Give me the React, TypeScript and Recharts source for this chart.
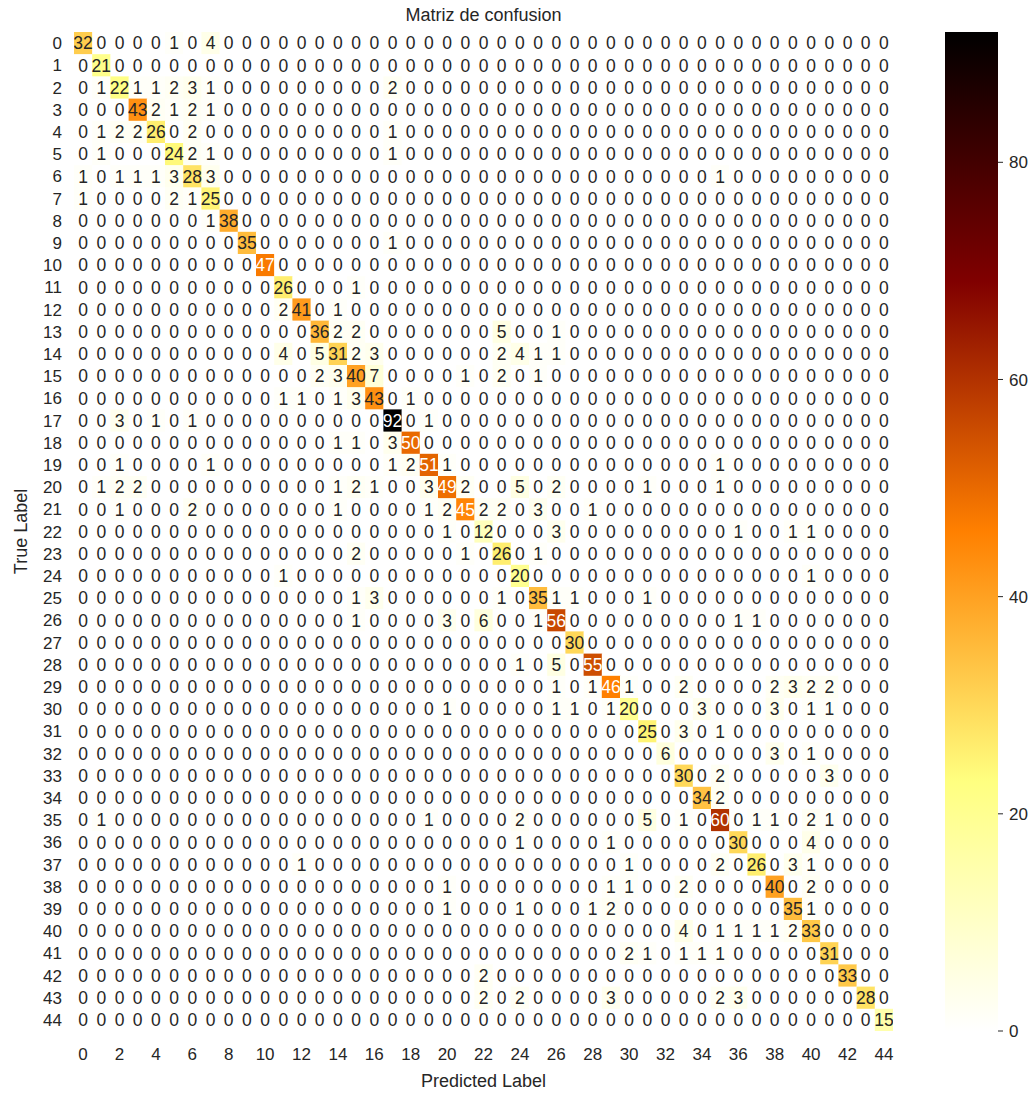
import React from 'react';
import { ScatterChart, Scatter, XAxis, YAxis, BarChart, Bar, Label } from 'recharts';

const FONT = '"Liberation Sans", Arial, sans-serif';
const INK = '#262626';

// class ids on each axis, and the ticks actually printed
const CLASS_TICKS = [
  0, 1, 2, 3, 4, 5, 6, 7, 8, 9, 10, 11, 12, 13, 14, 15, 16, 17, 18, 19, 20, 21, 22,
  23, 24, 25, 26, 27, 28, 29, 30, 31, 32, 33, 34, 35, 36, 37, 38, 39, 40, 41, 42, 43, 44,
];
const PRED_TICKS = [0, 2, 4, 6, 8, 10, 12, 14, 16, 18, 20, 22, 24, 26, 28, 30, 32, 34, 36, 38, 40, 42, 44];
const CBAR_TICKS = [0, 20, 40, 60, 80];
const V_MAX = 92;

// rows = true label, columns = predicted label
const CONFUSION: number[][] = [
  [32, 0, 0, 0, 0, 1, 0, 4, 0, 0, 0, 0, 0, 0, 0, 0, 0, 0, 0, 0, 0, 0, 0, 0, 0, 0, 0, 0, 0, 0, 0, 0, 0, 0, 0, 0, 0, 0, 0, 0, 0, 0, 0, 0, 0],
  [0, 21, 0, 0, 0, 0, 0, 0, 0, 0, 0, 0, 0, 0, 0, 0, 0, 0, 0, 0, 0, 0, 0, 0, 0, 0, 0, 0, 0, 0, 0, 0, 0, 0, 0, 0, 0, 0, 0, 0, 0, 0, 0, 0, 0],
  [0, 1, 22, 1, 1, 2, 3, 1, 0, 0, 0, 0, 0, 0, 0, 0, 0, 2, 0, 0, 0, 0, 0, 0, 0, 0, 0, 0, 0, 0, 0, 0, 0, 0, 0, 0, 0, 0, 0, 0, 0, 0, 0, 0, 0],
  [0, 0, 0, 43, 2, 1, 2, 1, 0, 0, 0, 0, 0, 0, 0, 0, 0, 0, 0, 0, 0, 0, 0, 0, 0, 0, 0, 0, 0, 0, 0, 0, 0, 0, 0, 0, 0, 0, 0, 0, 0, 0, 0, 0, 0],
  [0, 1, 2, 2, 26, 0, 2, 0, 0, 0, 0, 0, 0, 0, 0, 0, 0, 1, 0, 0, 0, 0, 0, 0, 0, 0, 0, 0, 0, 0, 0, 0, 0, 0, 0, 0, 0, 0, 0, 0, 0, 0, 0, 0, 0],
  [0, 1, 0, 0, 0, 24, 2, 1, 0, 0, 0, 0, 0, 0, 0, 0, 0, 1, 0, 0, 0, 0, 0, 0, 0, 0, 0, 0, 0, 0, 0, 0, 0, 0, 0, 0, 0, 0, 0, 0, 0, 0, 0, 0, 0],
  [1, 0, 1, 1, 1, 3, 28, 3, 0, 0, 0, 0, 0, 0, 0, 0, 0, 0, 0, 0, 0, 0, 0, 0, 0, 0, 0, 0, 0, 0, 0, 0, 0, 0, 0, 1, 0, 0, 0, 0, 0, 0, 0, 0, 0],
  [1, 0, 0, 0, 0, 2, 1, 25, 0, 0, 0, 0, 0, 0, 0, 0, 0, 0, 0, 0, 0, 0, 0, 0, 0, 0, 0, 0, 0, 0, 0, 0, 0, 0, 0, 0, 0, 0, 0, 0, 0, 0, 0, 0, 0],
  [0, 0, 0, 0, 0, 0, 0, 1, 38, 0, 0, 0, 0, 0, 0, 0, 0, 0, 0, 0, 0, 0, 0, 0, 0, 0, 0, 0, 0, 0, 0, 0, 0, 0, 0, 0, 0, 0, 0, 0, 0, 0, 0, 0, 0],
  [0, 0, 0, 0, 0, 0, 0, 0, 0, 35, 0, 0, 0, 0, 0, 0, 0, 1, 0, 0, 0, 0, 0, 0, 0, 0, 0, 0, 0, 0, 0, 0, 0, 0, 0, 0, 0, 0, 0, 0, 0, 0, 0, 0, 0],
  [0, 0, 0, 0, 0, 0, 0, 0, 0, 0, 47, 0, 0, 0, 0, 0, 0, 0, 0, 0, 0, 0, 0, 0, 0, 0, 0, 0, 0, 0, 0, 0, 0, 0, 0, 0, 0, 0, 0, 0, 0, 0, 0, 0, 0],
  [0, 0, 0, 0, 0, 0, 0, 0, 0, 0, 0, 26, 0, 0, 0, 1, 0, 0, 0, 0, 0, 0, 0, 0, 0, 0, 0, 0, 0, 0, 0, 0, 0, 0, 0, 0, 0, 0, 0, 0, 0, 0, 0, 0, 0],
  [0, 0, 0, 0, 0, 0, 0, 0, 0, 0, 0, 2, 41, 0, 1, 0, 0, 0, 0, 0, 0, 0, 0, 0, 0, 0, 0, 0, 0, 0, 0, 0, 0, 0, 0, 0, 0, 0, 0, 0, 0, 0, 0, 0, 0],
  [0, 0, 0, 0, 0, 0, 0, 0, 0, 0, 0, 0, 0, 36, 2, 2, 0, 0, 0, 0, 0, 0, 0, 5, 0, 0, 1, 0, 0, 0, 0, 0, 0, 0, 0, 0, 0, 0, 0, 0, 0, 0, 0, 0, 0],
  [0, 0, 0, 0, 0, 0, 0, 0, 0, 0, 0, 4, 0, 5, 31, 2, 3, 0, 0, 0, 0, 0, 0, 2, 4, 1, 1, 0, 0, 0, 0, 0, 0, 0, 0, 0, 0, 0, 0, 0, 0, 0, 0, 0, 0],
  [0, 0, 0, 0, 0, 0, 0, 0, 0, 0, 0, 0, 0, 2, 3, 40, 7, 0, 0, 0, 0, 1, 0, 2, 0, 1, 0, 0, 0, 0, 0, 0, 0, 0, 0, 0, 0, 0, 0, 0, 0, 0, 0, 0, 0],
  [0, 0, 0, 0, 0, 0, 0, 0, 0, 0, 0, 1, 1, 0, 1, 3, 43, 0, 1, 0, 0, 0, 0, 0, 0, 0, 0, 0, 0, 0, 0, 0, 0, 0, 0, 0, 0, 0, 0, 0, 0, 0, 0, 0, 0],
  [0, 0, 3, 0, 1, 0, 1, 0, 0, 0, 0, 0, 0, 0, 0, 0, 0, 92, 0, 1, 0, 0, 0, 0, 0, 0, 0, 0, 0, 0, 0, 0, 0, 0, 0, 0, 0, 0, 0, 0, 0, 0, 0, 0, 0],
  [0, 0, 0, 0, 0, 0, 0, 0, 0, 0, 0, 0, 0, 0, 1, 1, 0, 3, 50, 0, 0, 0, 0, 0, 0, 0, 0, 0, 0, 0, 0, 0, 0, 0, 0, 0, 0, 0, 0, 0, 0, 0, 0, 0, 0],
  [0, 0, 1, 0, 0, 0, 0, 1, 0, 0, 0, 0, 0, 0, 0, 0, 0, 1, 2, 51, 1, 0, 0, 0, 0, 0, 0, 0, 0, 0, 0, 0, 0, 0, 0, 1, 0, 0, 0, 0, 0, 0, 0, 0, 0],
  [0, 1, 2, 2, 0, 0, 0, 0, 0, 0, 0, 0, 0, 0, 1, 2, 1, 0, 0, 3, 49, 2, 0, 0, 5, 0, 2, 0, 0, 0, 0, 1, 0, 0, 0, 1, 0, 0, 0, 0, 0, 0, 0, 0, 0],
  [0, 0, 1, 0, 0, 0, 2, 0, 0, 0, 0, 0, 0, 0, 1, 0, 0, 0, 0, 1, 2, 45, 2, 2, 0, 3, 0, 0, 1, 0, 0, 0, 0, 0, 0, 0, 0, 0, 0, 0, 0, 0, 0, 0, 0],
  [0, 0, 0, 0, 0, 0, 0, 0, 0, 0, 0, 0, 0, 0, 0, 0, 0, 0, 0, 0, 1, 0, 12, 0, 0, 0, 3, 0, 0, 0, 0, 0, 0, 0, 0, 0, 1, 0, 0, 1, 1, 0, 0, 0, 0],
  [0, 0, 0, 0, 0, 0, 0, 0, 0, 0, 0, 0, 0, 0, 0, 2, 0, 0, 0, 0, 0, 1, 0, 26, 0, 1, 0, 0, 0, 0, 0, 0, 0, 0, 0, 0, 0, 0, 0, 0, 0, 0, 0, 0, 0],
  [0, 0, 0, 0, 0, 0, 0, 0, 0, 0, 0, 1, 0, 0, 0, 0, 0, 0, 0, 0, 0, 0, 0, 0, 20, 0, 0, 0, 0, 0, 0, 0, 0, 0, 0, 0, 0, 0, 0, 0, 1, 0, 0, 0, 0],
  [0, 0, 0, 0, 0, 0, 0, 0, 0, 0, 0, 0, 0, 0, 0, 1, 3, 0, 0, 0, 0, 0, 0, 1, 0, 35, 1, 1, 0, 0, 0, 1, 0, 0, 0, 0, 0, 0, 0, 0, 0, 0, 0, 0, 0],
  [0, 0, 0, 0, 0, 0, 0, 0, 0, 0, 0, 0, 0, 0, 0, 1, 0, 0, 0, 0, 3, 0, 6, 0, 0, 1, 56, 0, 0, 0, 0, 0, 0, 0, 0, 0, 1, 1, 0, 0, 0, 0, 0, 0, 0],
  [0, 0, 0, 0, 0, 0, 0, 0, 0, 0, 0, 0, 0, 0, 0, 0, 0, 0, 0, 0, 0, 0, 0, 0, 0, 0, 0, 30, 0, 0, 0, 0, 0, 0, 0, 0, 0, 0, 0, 0, 0, 0, 0, 0, 0],
  [0, 0, 0, 0, 0, 0, 0, 0, 0, 0, 0, 0, 0, 0, 0, 0, 0, 0, 0, 0, 0, 0, 0, 0, 1, 0, 5, 0, 55, 0, 0, 0, 0, 0, 0, 0, 0, 0, 0, 0, 0, 0, 0, 0, 0],
  [0, 0, 0, 0, 0, 0, 0, 0, 0, 0, 0, 0, 0, 0, 0, 0, 0, 0, 0, 0, 0, 0, 0, 0, 0, 0, 1, 0, 1, 46, 1, 0, 0, 2, 0, 0, 0, 0, 2, 3, 2, 2, 0, 0, 0],
  [0, 0, 0, 0, 0, 0, 0, 0, 0, 0, 0, 0, 0, 0, 0, 0, 0, 0, 0, 0, 1, 0, 0, 0, 0, 0, 1, 1, 0, 1, 20, 0, 0, 0, 3, 0, 0, 0, 3, 0, 1, 1, 0, 0, 0],
  [0, 0, 0, 0, 0, 0, 0, 0, 0, 0, 0, 0, 0, 0, 0, 0, 0, 0, 0, 0, 0, 0, 0, 0, 0, 0, 0, 0, 0, 0, 0, 25, 0, 3, 0, 1, 0, 0, 0, 0, 0, 0, 0, 0, 0],
  [0, 0, 0, 0, 0, 0, 0, 0, 0, 0, 0, 0, 0, 0, 0, 0, 0, 0, 0, 0, 0, 0, 0, 0, 0, 0, 0, 0, 0, 0, 0, 0, 6, 0, 0, 0, 0, 0, 3, 0, 1, 0, 0, 0, 0],
  [0, 0, 0, 0, 0, 0, 0, 0, 0, 0, 0, 0, 0, 0, 0, 0, 0, 0, 0, 0, 0, 0, 0, 0, 0, 0, 0, 0, 0, 0, 0, 0, 0, 30, 0, 2, 0, 0, 0, 0, 0, 3, 0, 0, 0],
  [0, 0, 0, 0, 0, 0, 0, 0, 0, 0, 0, 0, 0, 0, 0, 0, 0, 0, 0, 0, 0, 0, 0, 0, 0, 0, 0, 0, 0, 0, 0, 0, 0, 0, 34, 2, 0, 0, 0, 0, 0, 0, 0, 0, 0],
  [0, 1, 0, 0, 0, 0, 0, 0, 0, 0, 0, 0, 0, 0, 0, 0, 0, 0, 0, 1, 0, 0, 0, 0, 2, 0, 0, 0, 0, 0, 0, 5, 0, 1, 0, 60, 0, 1, 1, 0, 2, 1, 0, 0, 0],
  [0, 0, 0, 0, 0, 0, 0, 0, 0, 0, 0, 0, 0, 0, 0, 0, 0, 0, 0, 0, 0, 0, 0, 0, 1, 0, 0, 0, 0, 1, 0, 0, 0, 0, 0, 0, 30, 0, 0, 0, 4, 0, 0, 0, 0],
  [0, 0, 0, 0, 0, 0, 0, 0, 0, 0, 0, 0, 1, 0, 0, 0, 0, 0, 0, 0, 0, 0, 0, 0, 0, 0, 0, 0, 0, 0, 1, 0, 0, 0, 0, 2, 0, 26, 0, 3, 1, 0, 0, 0, 0],
  [0, 0, 0, 0, 0, 0, 0, 0, 0, 0, 0, 0, 0, 0, 0, 0, 0, 0, 0, 0, 1, 0, 0, 0, 0, 0, 0, 0, 0, 1, 1, 0, 0, 2, 0, 0, 0, 0, 40, 0, 2, 0, 0, 0, 0],
  [0, 0, 0, 0, 0, 0, 0, 0, 0, 0, 0, 0, 0, 0, 0, 0, 0, 0, 0, 0, 1, 0, 0, 0, 1, 0, 0, 0, 1, 2, 0, 0, 0, 0, 0, 0, 0, 0, 0, 35, 1, 0, 0, 0, 0],
  [0, 0, 0, 0, 0, 0, 0, 0, 0, 0, 0, 0, 0, 0, 0, 0, 0, 0, 0, 0, 0, 0, 0, 0, 0, 0, 0, 0, 0, 0, 0, 0, 0, 4, 0, 1, 1, 1, 1, 2, 33, 0, 0, 0, 0],
  [0, 0, 0, 0, 0, 0, 0, 0, 0, 0, 0, 0, 0, 0, 0, 0, 0, 0, 0, 0, 0, 0, 0, 0, 0, 0, 0, 0, 0, 0, 2, 1, 0, 1, 1, 1, 0, 0, 0, 0, 0, 31, 0, 0, 0],
  [0, 0, 0, 0, 0, 0, 0, 0, 0, 0, 0, 0, 0, 0, 0, 0, 0, 0, 0, 0, 0, 0, 2, 0, 0, 0, 0, 0, 0, 0, 0, 0, 0, 0, 0, 0, 0, 0, 0, 0, 0, 0, 33, 0, 0],
  [0, 0, 0, 0, 0, 0, 0, 0, 0, 0, 0, 0, 0, 0, 0, 0, 0, 0, 0, 0, 0, 0, 2, 0, 2, 0, 0, 0, 0, 3, 0, 0, 0, 0, 0, 2, 3, 0, 0, 0, 0, 0, 0, 28, 0],
  [0, 0, 0, 0, 0, 0, 0, 0, 0, 0, 0, 0, 0, 0, 0, 0, 0, 0, 0, 0, 0, 0, 0, 0, 0, 0, 0, 0, 0, 0, 0, 0, 0, 0, 0, 0, 0, 0, 0, 0, 0, 0, 0, 0, 15],
];

const W = 1034;
const H = 1093;
const PLOT = { left: 74, top: 32, right: 893, bottom: 1031 };
const N = CLASS_TICKS.length;
const CELL_W = (PLOT.right - PLOT.left) / N;
const CELL_H = (PLOT.bottom - PLOT.top) / N;

// afmhot_r: white -> yellow -> orange -> dark red -> black
const clamp = (x: number) => Math.min(Math.max(x, 0), 1);
function heatRgb(v: number): number[] {
  const t = 1 - clamp(v / V_MAX);
  return [clamp(2 * t), clamp(2 * t - 0.5), clamp(2 * t - 1)];
}
const toCss = (rgb: number[]) => `rgb(${rgb.map((c) => Math.round(c * 255)).join(',')})`;

// same rule seaborn uses to flip annotation colour on dark cells
function annotColor(rgb: number[]) {
  const lin = rgb.map((c) => (c <= 0.03928 ? c / 12.92 : Math.pow((c + 0.055) / 1.055, 2.4)));
  const lum = 0.2126 * lin[0] + 0.7152 * lin[1] + 0.0722 * lin[2];
  return lum > 0.408 ? INK : '#ffffff';
}

const cells = CONFUSION.flatMap((row, r) => row.map((value, c) => ({ pred: c, truth: r, value })));

const HeatCell = (props: any) => {
  const { cx, cy, payload } = props;
  return (
    <rect
      x={cx - CELL_W / 2}
      y={cy - CELL_H / 2}
      width={CELL_W + 0.4}
      height={CELL_H + 0.4}
      fill={toCss(heatRgb(payload.value))}
    />
  );
};

const CellText = (props: any) => {
  const { cx, cy, payload } = props;
  return (
    <text
      x={cx}
      y={cy}
      dy="0.36em"
      textAnchor="middle"
      fontSize={17.5}
      fontFamily={FONT}
      fill={annotColor(heatRgb(payload.value))}
    >
      {payload.value}
    </text>
  );
};

const CBAR_STOPS = [0, 0.25, 0.5, 0.75, 1];

export default function App() {
  const tickStyle = { fontSize: 17, fill: INK, fontFamily: FONT };
  return (
    <div style={{ position: 'absolute', left: 0, top: 0, width: W, height: H, background: '#fff', fontFamily: FONT }}>
      <div
        style={{
          position: 'absolute',
          left: PLOT.left,
          width: PLOT.right - PLOT.left,
          top: 4,
          textAlign: 'center',
          fontSize: 18,
          color: INK,
          lineHeight: '22px',
        }}
      >
        Matriz de confusion
      </div>

      <ScatterChart
        width={W}
        height={H}
        margin={{ top: PLOT.top, right: W - PLOT.right, bottom: 0, left: 0 }}
      >
        <XAxis
          dataKey="pred"
          type="number"
          domain={[-0.5, N - 0.5]}
          allowDataOverflow
          ticks={PRED_TICKS}
          interval={0}
          height={H - PLOT.bottom}
          tickLine={false}
          axisLine={false}
          tickMargin={11}
          tick={tickStyle}
        >
          <Label value="Predicted Label" position="insideBottom" offset={6} fontSize={18} fill={INK} fontFamily={FONT} />
        </XAxis>
        <YAxis
          dataKey="truth"
          type="number"
          domain={[-0.5, N - 0.5]}
          allowDataOverflow
          reversed
          ticks={CLASS_TICKS}
          interval={0}
          width={PLOT.left}
          tickLine={false}
          axisLine={false}
          tickMargin={6}
          tick={tickStyle}
        >
          <Label
            value="True Label"
            angle={-90}
            position="insideLeft"
            offset={21}
            textAnchor="middle"
            fontSize={18}
            fill={INK}
            fontFamily={FONT}
          />
        </YAxis>
        <Scatter data={cells} shape={HeatCell} isAnimationActive={false} />
        <Scatter data={cells} shape={CellText} isAnimationActive={false} />
      </ScatterChart>

      {/* colour bar */}
      <div style={{ position: 'absolute', left: 940, top: 0 }}>
        <BarChart
          width={94}
          height={H}
          data={[{ name: 'scale', value: V_MAX }]}
          margin={{ top: PLOT.top, right: 0, bottom: H - PLOT.bottom, left: 5 }}
          barCategoryGap={0}
        >
          <defs>
            <linearGradient id="cbarGrad" x1="0" y1="0" x2="0" y2="1">
              {CBAR_STOPS.map((o) => (
                <stop key={o} offset={o} stopColor={toCss(heatRgb(V_MAX * (1 - o)))} />
              ))}
            </linearGradient>
          </defs>
          <XAxis dataKey="name" hide />
          <YAxis
            orientation="right"
            type="number"
            domain={[0, V_MAX]}
            ticks={CBAR_TICKS}
            width={36}
            axisLine={false}
            tickLine={{ stroke: INK }}
            tickSize={5}
            tickMargin={6}
            tick={tickStyle}
          />
          <Bar dataKey="value" fill="url(#cbarGrad)" isAnimationActive={false} />
        </BarChart>
      </div>
    </div>
  );
}
